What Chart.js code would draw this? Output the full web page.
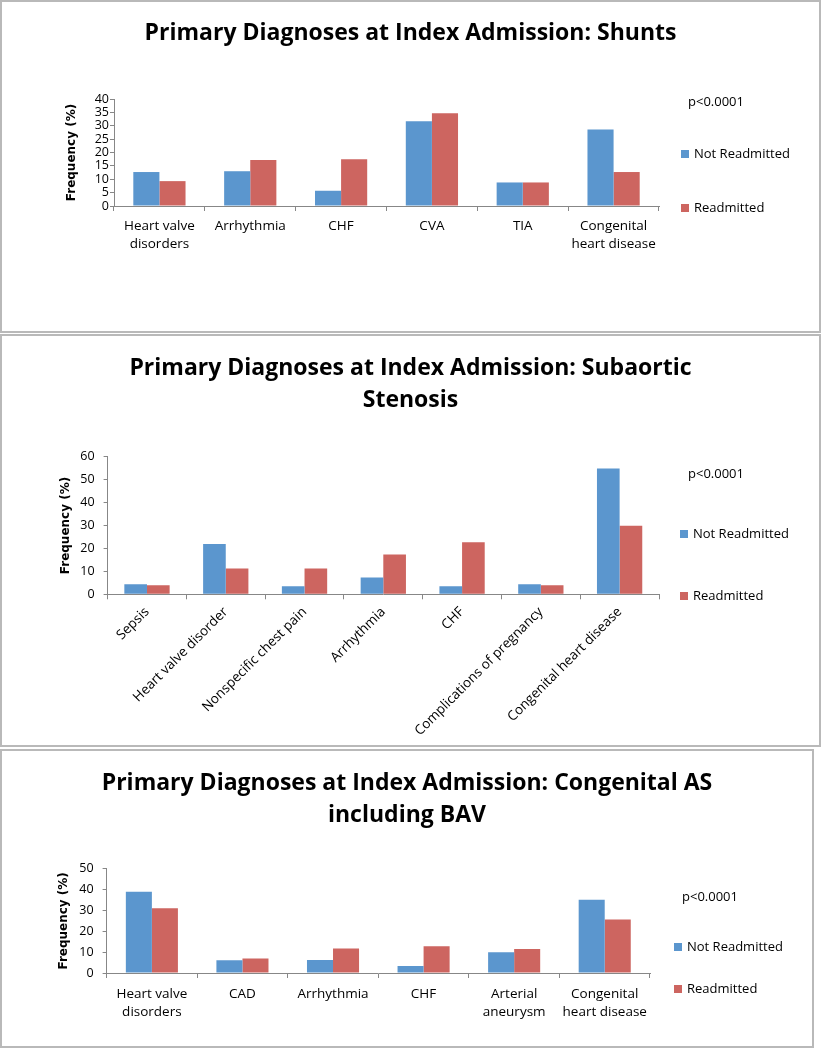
<!DOCTYPE html>
<html>
<head>
<meta charset="utf-8">
<script src="https://cdn.jsdelivr.net/npm/chart.js@4"></script>
<style>
  html, body { margin: 0; padding: 0; background: #fff; }
  .panel { position: absolute; border: 2px solid #b9b9b9; background: #fff; }
  .panel canvas { display: block; }
</style>
</head>
<body>
<div class="panel" style="left:0;top:0;width:817px;height:329px"><canvas id="shunts" width="817" height="329"></canvas></div>
<div class="panel" style="left:0;top:334px;width:817px;height:409px"><canvas id="subaortic" width="817" height="409"></canvas></div>
<div class="panel" style="left:0;top:749px;width:810px;height:295px"><canvas id="congAS" width="810" height="295"></canvas></div>
<script>
const seriesNames = ["Not Readmitted", "Readmitted"];
const pText = "p<0.0001";

const shuntCats = [["Heart valve", "disorders"], "Arrhythmia", "CHF", "CVA", "TIA", ["Congenital", "heart disease"]];
const shuntNot = [12.7, 13.0, 5.7, 31.7, 8.8, 28.6];
const shuntRe = [9.3, 17.2, 17.5, 34.7, 8.8, 12.7];
const shuntTicks = [0, 40, 5]; // min, max, step

const subCats = ["Sepsis", "Heart valve disorder", "Nonspecific chest pain", "Arrhythmia", "CHF", "Complications of pregnancy", "Congenital heart disease"];
const subNot = [4.4, 21.9, 3.5, 7.3, 3.5, 4.4, 54.9];
const subRe = [3.9, 11.3, 11.3, 17.4, 22.7, 3.9, 29.9];
const subTicks = [0, 60, 10];

const asCats = [["Heart valve", "disorders"], "CAD", "Arrhythmia", "CHF", ["Arterial", "aneurysm"], ["Congenital", "heart disease"]];
const asNot = [39.0, 6.1, 6.2, 3.4, 9.9, 35.1];
const asRe = [31.0, 7.0, 11.7, 12.8, 11.5, 25.7];
const asTicks = [0, 50, 10];

const BLUE = "#5b96ce";
const RED = "#cd6560";
const AXIS = "#878787";
const FONT = "'Open Sans', Lato, sans-serif";

Chart.defaults.animation = false;
Chart.defaults.color = "#000";

// legend + p value drawn to the right of the plot, Excel style
const sideLegend = {
  id: "sideLegend",
  afterDraw(chart, args, o) {
    const ctx = chart.ctx;
    ctx.save();
    ctx.font = `13px ${FONT}`;
    ctx.textBaseline = "middle";
    ctx.fillStyle = "#000";
    ctx.fillText(pText, o.pX, o.pY);
    chart.data.datasets.forEach((ds, i) => {
      const y = o.rows[i];
      ctx.fillStyle = ds.backgroundColor;
      ctx.fillRect(o.boxX, y - 4, 8, 8);
      ctx.fillStyle = "#000";
      ctx.fillText(ds.label, o.boxX + 13, y);
    });
    ctx.restore();
  },
};

function makeChart(id, p) {
  new Chart(document.getElementById(id), {
    type: "bar",
    data: {
      labels: p.cats,
      datasets: [
        { label: seriesNames[0], data: p.not, backgroundColor: BLUE, categoryPercentage: 0.575, barPercentage: 1 },
        { label: seriesNames[1], data: p.re, backgroundColor: RED, categoryPercentage: 0.575, barPercentage: 1 },
      ],
    },
    options: {
      responsive: false,
      layout: { padding: 0 },
      plugins: {
        legend: { display: false },
        tooltip: { enabled: false },
        title: {
          display: true,
          text: p.title,
          color: "#000",
          font: { family: FONT, size: 23, weight: "bold", lineHeight: "32px" },
          padding: p.titlePad,
        },
        sideLegend: p.legend,
      },
      scales: {
        x: {
          grid: { drawOnChartArea: false, drawTicks: true, tickLength: 5, color: AXIS },
          border: { color: AXIS },
          ticks: {
            font: { family: FONT, size: 13.5, lineHeight: "18px" },
            color: "#000",
            padding: p.xPad,
            autoSkip: false,
            minRotation: p.rot,
            maxRotation: p.rot,
          },
          afterFit: (s) => { s.height = p.xH; },
        },
        y: {
          min: p.ticks[0],
          max: p.ticks[1],
          grid: { drawOnChartArea: false, drawTicks: true, tickLength: 4, color: AXIS },
          border: { color: AXIS },
          ticks: {
            stepSize: p.ticks[2],
            autoSkip: false,
            font: { family: FONT, size: 12.5 },
            color: "#000",
            padding: p.yPad,
          },
          title: {
            display: true,
            text: "Frequency (%)",
            color: "#000",
            font: { family: "'DejaVu Sans', Verdana, sans-serif", size: 12, weight: "bold" },
            padding: { top: p.yTitleX - 7.2, bottom: 0 },
          },
          afterFit: (s) => { s.width = p.yW; },
        },
        pad: {
          type: "linear",
          position: "right",
          grid: { display: false },
          border: { display: false },
          ticks: { display: false },
          afterFit: (s) => { s.width = p.rightW; },
        },
      },
    },
    plugins: [sideLegend],
  });
}

makeChart("shunts", {
  cats: shuntCats, not: shuntNot, re: shuntRe, ticks: shuntTicks,
  title: "Primary Diagnoses at Index Admission: Shunts",
  titlePad: { top: 15, bottom: 50 },
  xH: 125, xPad: 6, rot: 0,
  yW: 112, yPad: 1, yTitleX: 70, rightW: 160,
  legend: { pX: 686, pY: 100, boxX: 679, rows: [152, 206] },
});

makeChart("subaortic", {
  cats: subCats, not: subNot, re: subRe, ticks: subTicks,
  title: ["Primary Diagnoses at Index Admission: Subaortic", "Stenosis"],
  titlePad: { top: 16, bottom: 40.7 },
  xH: 150.7, xPad: 4, rot: 45,
  yW: 105.6, yPad: 9, yTitleX: 63.6, rightW: 160,
  legend: { pX: 686, pY: 138, boxX: 678, rows: [198, 260] },
});

makeChart("congAS", {
  cats: asCats, not: asNot, re: asRe, ticks: asTicks,
  title: ["Primary Diagnoses at Index Admission: Congenital AS", "including BAV"],
  titlePad: { top: 16, bottom: 37.7 },
  xH: 73, xPad: 7, rot: 0,
  yW: 104.6, yPad: 9, yTitleX: 62, rightW: 162,
  legend: { pX: 680, pY: 146, boxX: 672, rows: [196, 238] },
});
</script>
</body>
</html>
